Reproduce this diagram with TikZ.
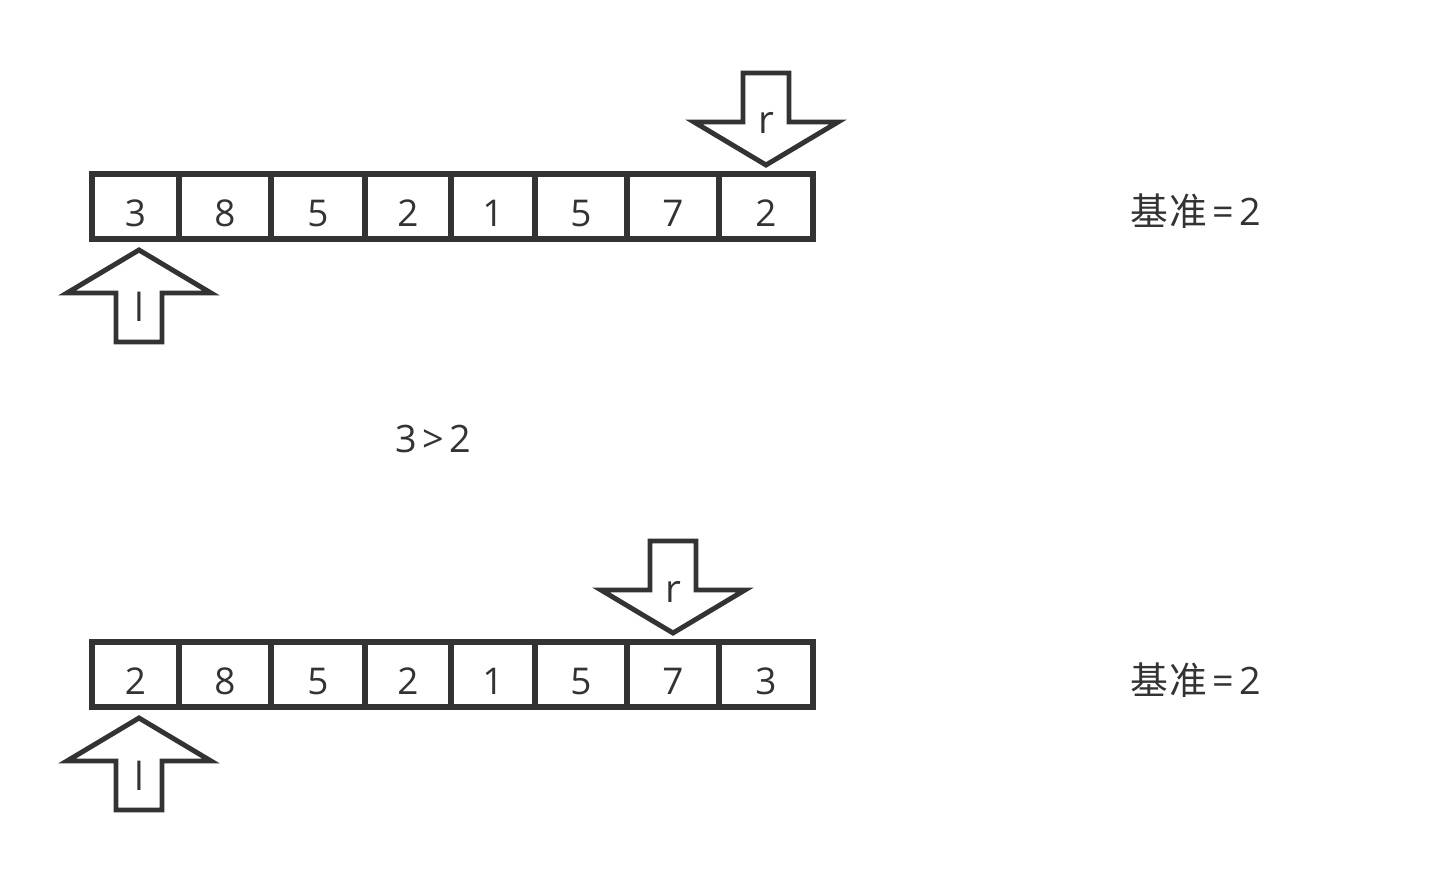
\documentclass[tikz,border=0pt]{standalone}
\usepackage{fontspec}
\setmainfont{Open Sans}
\newfontfamily\cjk{Noto Sans CJK SC}
\definecolor{inkgray}{HTML}{333333}

\begin{document}
\begin{tikzpicture}[x=0.02cm, y=-0.02cm,
    cell/.style={draw=inkgray, line width=3pt, inner sep=0pt, minimum height=1.3cm,
        text height=23pt, text depth=0pt, text=inkgray, font=\fontsize{21pt}{25pt}\selectfont},
    ptrline/.style={draw=inkgray, line width=2.8pt, fill=white},
    ptrtext/.style={anchor=base, inner sep=0pt, text=inkgray, font=\fontsize{22pt}{26pt}\selectfont},
    note/.style={anchor=base west, inner sep=0pt, text=inkgray, font=\fontsize{21.5pt}{25pt}\selectfont},
    ptr/.pic={\draw[ptrline] (0,0) -- (72,43) -- (23,43) -- (23,92) -- (-23,92) -- (-23,43) -- (-72,43) -- cycle;}
]
    % Fix the canvas
    \useasboundingbox (0,0) rectangle (1448,885);

    % First row of cells
    \foreach \l/\r/\v [count=\i] in {92/179/3, 179/271/8, 271/365/5, 365/451/2, 451/535/1, 535/627/5, 627/719/7, 719/813/2}{
        \pgfmathsetmacro\w{(\r-\l)*0.02}
        \node[cell, minimum width=\w cm] (a\i) at ({(\l+\r)/2},206.5) {\v};
    }

    % Pointers on the first row
    \pic[yscale=-1] at (766,165) {ptr};
    \node[ptrtext] (r1) at (766,134) {r};
    \pic at (139,250) {ptr};
    \node[ptrtext] (l1) at (139,322) {l};

    % Pivot and comparison
    \node[note] (pivot1) at (1130,226) {{\cjk 基\kern1pt 准}\kern3pt=\kern3pt2};
    \node[note] (cmp) at (395,452) {3\kern3pt>\kern3pt2};

    % Second row of cells
    \foreach \l/\r/\v [count=\i] in {92/179/2, 179/271/8, 271/365/5, 365/451/2, 451/535/1, 535/627/5, 627/719/7, 719/813/3}{
        \pgfmathsetmacro\w{(\r-\l)*0.02}
        \node[cell, minimum width=\w cm] (b\i) at ({(\l+\r)/2},674.5) {\v};
    }

    % Pointers on the second row
    \pic[yscale=-1] at (673,633) {ptr};
    \node[ptrtext] (r2) at (673,602) {r};
    \pic at (139,718) {ptr};
    \node[ptrtext] (l2) at (139,790) {l};

    \node[note] (pivot2) at (1130,694) {{\cjk 基\kern1pt 准}\kern3pt=\kern3pt2};
\end{tikzpicture}
\end{document}
